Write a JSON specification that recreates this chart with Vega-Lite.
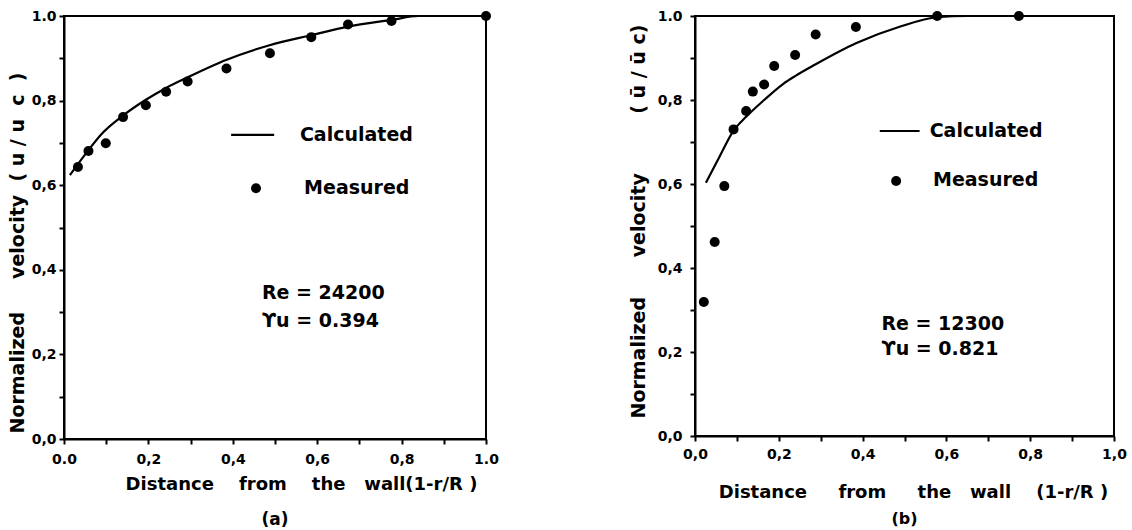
{
  "$schema": "https://vega.github.io/schema/vega-lite/v6.json",
  "background": "white",
  "padding": {"left": 7, "top": 8, "right": 5, "bottom": 0},
  "spacing": 128,
  "datasets": {
    "calcA": [
      {"x": 0.014, "y": 0.624}, {"x": 0.058, "y": 0.683}, {"x": 0.088, "y": 0.720},
      {"x": 0.139, "y": 0.764}, {"x": 0.194, "y": 0.802}, {"x": 0.242, "y": 0.830},
      {"x": 0.293, "y": 0.855}, {"x": 0.384, "y": 0.896}, {"x": 0.487, "y": 0.931},
      {"x": 0.587, "y": 0.955}, {"x": 0.674, "y": 0.975}, {"x": 0.777, "y": 0.991},
      {"x": 0.84, "y": 1.0}, {"x": 1.0, "y": 1.0}
    ],
    "measA": [
      {"x": 0.033, "y": 0.643}, {"x": 0.058, "y": 0.681}, {"x": 0.099, "y": 0.699},
      {"x": 0.140, "y": 0.761}, {"x": 0.194, "y": 0.789}, {"x": 0.242, "y": 0.821},
      {"x": 0.293, "y": 0.845}, {"x": 0.385, "y": 0.876}, {"x": 0.488, "y": 0.912},
      {"x": 0.586, "y": 0.950}, {"x": 0.673, "y": 0.980}, {"x": 0.776, "y": 0.988},
      {"x": 1.0, "y": 1.0}
    ],
    "calcB": [
      {"x": 0.026, "y": 0.603}, {"x": 0.060, "y": 0.668}, {"x": 0.092, "y": 0.727},
      {"x": 0.122, "y": 0.760}, {"x": 0.165, "y": 0.800}, {"x": 0.21, "y": 0.838},
      {"x": 0.239, "y": 0.857}, {"x": 0.288, "y": 0.885}, {"x": 0.384, "y": 0.935},
      {"x": 0.490, "y": 0.975}, {"x": 0.578, "y": 0.997}, {"x": 0.65, "y": 1.0},
      {"x": 1.0, "y": 1.0}
    ],
    "measB": [
      {"x": 0.021, "y": 0.319}, {"x": 0.047, "y": 0.462}, {"x": 0.070, "y": 0.595},
      {"x": 0.092, "y": 0.730}, {"x": 0.122, "y": 0.774}, {"x": 0.138, "y": 0.820},
      {"x": 0.165, "y": 0.837}, {"x": 0.189, "y": 0.881}, {"x": 0.239, "y": 0.907},
      {"x": 0.288, "y": 0.956}, {"x": 0.384, "y": 0.974}, {"x": 0.578, "y": 1.0},
      {"x": 0.773, "y": 1.0}
    ],
    "keyLineA": [{"x": 0.396, "x2": 0.498, "y": 0.719}],
    "keyDotA": [{"x": 0.455, "y": 0.593}],
    "textA": [
      {"x": 0.559, "y": 0.719, "label": "Calculated"},
      {"x": 0.569, "y": 0.593, "label": "Measured"},
      {"x": 0.469, "y": 0.345, "label": "Re = 24200"},
      {"x": 0.469, "y": 0.279, "label": "ϒu = 0.394"}
    ],
    "keyLineB": [{"x": 0.441, "x2": 0.536, "y": 0.726}],
    "keyDotB": [{"x": 0.480, "y": 0.607}],
    "textB": [
      {"x": 0.560, "y": 0.726, "label": "Calculated"},
      {"x": 0.568, "y": 0.610, "label": "Measured"},
      {"x": 0.445, "y": 0.266, "label": "Re =  12300"},
      {"x": 0.445, "y": 0.206, "label": "ϒu =  0.821"}
    ]
  },
  "hconcat": [
    {
      "width": 422,
      "height": 423,
      "title": {"text": "(a)", "orient": "bottom", "offset": 19, "fontSize": 17, "fontWeight": "bold", "font": "DejaVu Sans", "color": "black"},
      "encoding": {
        "x": {
          "field": "x", "type": "quantitative",
          "scale": {"domain": [0, 1], "nice": false, "zero": false},
          "axis": {
            "values": [0, 0.1, 0.2, 0.3, 0.4, 0.5, 0.6, 0.7, 0.8, 0.9, 1],
            "labelExpr": "datum.value == 0 ? '0.0' : datum.value == 1 ? '1.0' : (round(datum.value * 10) % 2 == 0 ? replace(format(datum.value, '.1f'), '.', ',') : '')",
            "title": "Distance\u00a0\u00a0\u00a0\u00a0from\u00a0\u00a0\u00a0\u00a0the\u00a0\u00a0\u00a0wall(1-r/R )",
            "titleX": 237,
            "titleAlign": "center",
            "titleFontSize": 18,
            "labelPadding": 8,
            "titlePadding": 9
          }
        },
        "y": {
          "field": "y", "type": "quantitative",
          "scale": {"domain": [0, 1], "nice": false, "zero": false},
          "axis": {
            "values": [0, 0.1, 0.2, 0.3, 0.4, 0.5, 0.6, 0.7, 0.8, 0.9, 1],
            "labelExpr": "datum.value == 1 ? '1.0' : (round(datum.value * 10) % 2 == 0 ? replace(format(datum.value, '.1f'), '.', ',') : '')",
            "title": "Normalized\u00a0\u00a0\u00a0\u00a0\u00a0velocity\u00a0\u00a0(\u00a0u\u00a0/\u00a0u\u00a0\u00a0c\u00a0\u00a0)",
            "titleAnchor": "start",
            "titleY": 417,
            "titlePadding": 4,
            "labelPadding": 3
          }
        }
      },
      "layer": [
        {"data": {"name": "calcA"}, "mark": {"type": "line", "color": "black", "strokeWidth": 2.2, "interpolate": "monotone", "clip": true}},
        {"data": {"name": "measA"}, "mark": {"type": "point", "filled": true, "color": "black", "size": 100, "opacity": 1}},
        {"data": {"name": "keyLineA"}, "mark": {"type": "rule", "color": "black", "strokeWidth": 2.2}, "encoding": {"x2": {"field": "x2"}}},
        {"data": {"name": "keyDotA"}, "mark": {"type": "point", "filled": true, "color": "black", "size": 100, "opacity": 1}},
        {"data": {"name": "textA"}, "mark": {"type": "text", "align": "left", "baseline": "middle", "font": "DejaVu Sans", "fontWeight": "bold", "fontSize": 19, "color": "black"}, "encoding": {"text": {"field": "label"}}}
      ]
    },
    {
      "width": 419,
      "height": 420,
      "title": {"text": "(b)", "orient": "bottom", "offset": 10, "fontSize": 16, "fontWeight": "bold", "font": "DejaVu Sans", "color": "black"},
      "encoding": {
        "x": {
          "field": "x", "type": "quantitative",
          "scale": {"domain": [0, 1], "nice": false, "zero": false},
          "axis": {
            "values": [0, 0.1, 0.2, 0.3, 0.4, 0.5, 0.6, 0.7, 0.8, 0.9, 1],
            "labelExpr": "round(datum.value * 10) % 2 == 0 ? replace(format(datum.value, '.1f'), '.', ',') : ''",
            "title": "Distance\u00a0\u00a0\u00a0\u00a0\u00a0from\u00a0\u00a0\u00a0\u00a0\u00a0the\u00a0\u00a0\u00a0wall\u00a0\u00a0\u00a0\u00a0(1-r/R )",
            "titleX": 218,
            "titleAlign": "center",
            "titleFontSize": 18,
            "labelPadding": 6,
            "titlePadding": 22
          }
        },
        "y": {
          "field": "y", "type": "quantitative",
          "scale": {"domain": [0, 1], "nice": false, "zero": false},
          "axis": {
            "values": [0, 0.1, 0.2, 0.3, 0.4, 0.5, 0.6, 0.7, 0.8, 0.9, 1],
            "labelExpr": "datum.value == 1 ? '1.0' : (round(datum.value * 10) % 2 == 0 ? replace(format(datum.value, '.1f'), '.', ',') : '')",
            "title": "Normalized\u00a0\u00a0\u00a0\u00a0\u00a0\u00a0velocity\u00a0\u00a0\u00a0\u00a0\u00a0\u00a0\u00a0\u00a0\u00a0(\u00a0ū\u00a0/\u00a0ū\u00a0c)",
            "titleAnchor": "start",
            "titleY": 402,
            "titlePadding": 9,
            "labelPadding": 8
          }
        }
      },
      "layer": [
        {"data": {"name": "calcB"}, "mark": {"type": "line", "color": "black", "strokeWidth": 2.2, "interpolate": "monotone", "clip": true}},
        {"data": {"name": "measB"}, "mark": {"type": "point", "filled": true, "color": "black", "size": 100, "opacity": 1}},
        {"data": {"name": "keyLineB"}, "mark": {"type": "rule", "color": "black", "strokeWidth": 2}, "encoding": {"x2": {"field": "x2"}}},
        {"data": {"name": "keyDotB"}, "mark": {"type": "point", "filled": true, "color": "black", "size": 100, "opacity": 1}},
        {"data": {"name": "textB"}, "mark": {"type": "text", "align": "left", "baseline": "middle", "font": "DejaVu Sans", "fontWeight": "bold", "fontSize": 19, "color": "black"}, "encoding": {"text": {"field": "label"}}}
      ]
    }
  ],
  "config": {
    "font": "DejaVu Sans",
    "view": {"stroke": "black", "strokeWidth": 2},
    "axis": {
      "grid": false,
      "labelFlush": false,
      "domainColor": "black",
      "domainWidth": 2,
      "tickColor": "black",
      "tickWidth": 2,
      "tickSize": 5,
      "labelFont": "DejaVu Sans",
      "labelFontWeight": "bold",
      "labelFontSize": 14,
      "labelColor": "black",
      "titleFont": "DejaVu Sans",
      "titleFontWeight": "bold",
      "titleFontSize": 19,
      "titleColor": "black"
    }
  }
}
